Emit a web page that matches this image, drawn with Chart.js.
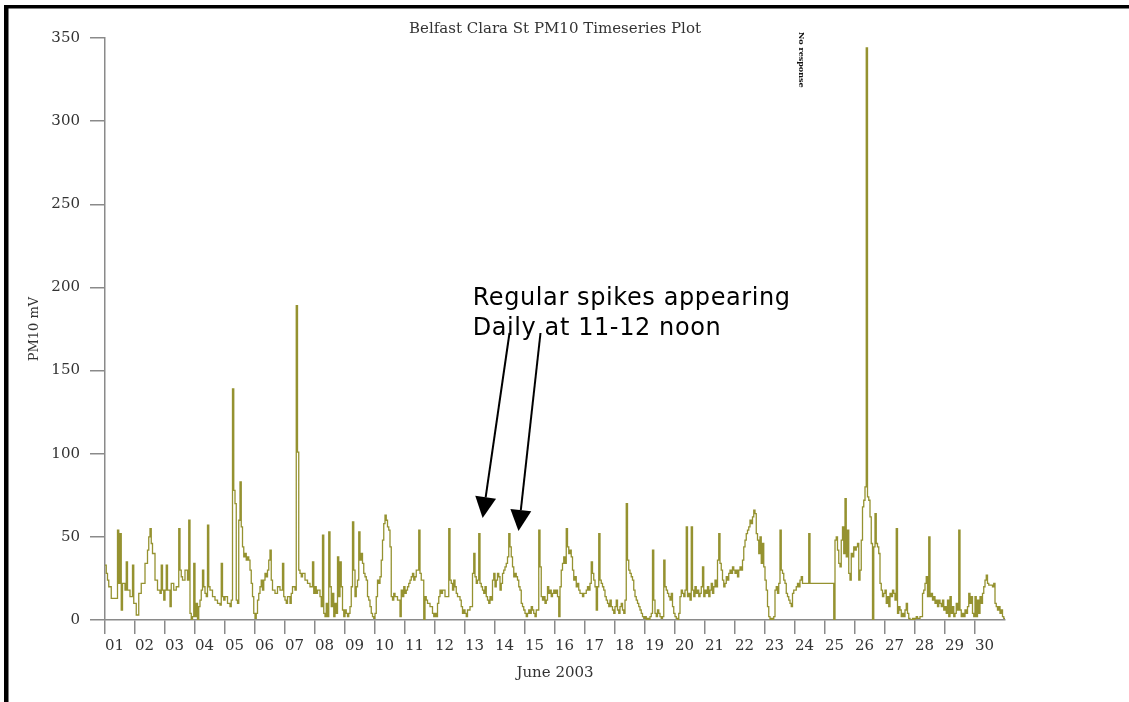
<!DOCTYPE html>
<html>
<head>
<meta charset="utf-8">
<script src="https://cdn.jsdelivr.net/npm/chart.js@4.4.0/dist/chart.umd.min.js"></script>
<style>
  html, body { margin: 0; padding: 0; background: #fff; overflow: hidden; }
  #wrap { width: 1129px; height: 702px; position: relative; }
</style>
</head>
<body>
<div id="wrap"><canvas id="chart" width="1129" height="702"></canvas></div>
<script>
// Belfast Clara St PM10 monitor, June 2003 — readings as [hour since 1 June 00:00, PM10 mV]
// Each reading holds until the next one.
const chartTitle = 'Belfast Clara St PM10 Timeseries Plot';
const xTitle = 'June 2003';
const yTitle = 'PM10 mV';
const dayLabels = ['01','02','03','04','05','06','07','08','09','10','11','12','13','14','15',
                   '16','17','18','19','20','21','22','23','24','25','26','27','28','29','30'];
const yTicks = [0, 50, 100, 150, 200, 250, 300, 350];

const week1 = [
  [0,33],[1,28],[2,24],[3,20],[5,13],[10,54],[11,22],[12,52],[13,6],[14,22],[16,18],[17,35],[18,18],[20,14],[22,33],[23,10],
  [24,10],[25,3],[27,16],[29,22],[32,34],[34,42],[35,50],[36,55],[37,46],[38,40],[40,24],[42,18],[44,16],[45,33],[46,18],[47,12],
  [48,18],[49,33],[50,18],[52,8],[53,22],[55,18],[57,20],[59,55],[60,30],[61,26],[62,24],[64,30],[66,24],[67,60],[68,4],[69,0],[70,2],[71,34],
  [72,2],[73,10],[74,0],[75,8],[76,12],[77,18],[78,30],[79,20],[80,16],[81,14],[82,57],[83,20],[84,18],[86,14],[88,12],[90,10],[92,9],[93,34],[94,14],[95,12],
  [96,14],[98,10],[100,8],[101,12],[102,139],[103,78],[104,70],[105,12],[106,10],[107,60],[108,83],[109,56],[110,44],[111,38],[112,40],[113,36],[114,38],[115,36],[116,30],[117,22],[118,14],[119,4],
  [120,1],[121,4],[122,12],[123,16],[124,20],[125,24],[126,18],[127,24],[128,28],[129,26],[130,30],[131,36],[132,42],[133,24],[134,18],[136,16],[138,20],[140,18],[142,34],[143,14],
  [144,12],[145,10],[146,14],[148,10],[149,16],[150,20],[152,18],[153,189],[154,101],[155,30],[156,28],[157,26],[158,28],[160,24],[162,22],[164,20],[166,35],[167,16]
];
const week2 = [
  [168,20],[169,16],[170,18],[172,14],[173,8],[174,51],[175,4],[176,2],[177,10],[178,2],[179,53],[180,20],[181,8],[182,16],[183,2],[184,10],[185,4],[186,38],[187,14],[188,35],[189,20],[190,6],[191,2],
  [192,6],[193,4],[194,2],[195,4],[196,8],[197,20],[198,59],[199,30],[200,14],[201,20],[202,24],[203,53],[204,36],[205,40],[206,34],[207,28],[208,26],[209,24],[210,14],[211,12],[212,8],[213,4],[214,2],[215,1],
  [216,4],[217,14],[218,24],[219,22],[220,26],[221,36],[222,48],[223,58],[224,63],[225,60],[226,56],[227,54],[228,44],[229,14],[230,12],[231,16],[232,14],[234,12],[236,2],[237,18],[238,14],[239,20],
  [240,16],[241,18],[242,20],[243,22],[244,24],[245,26],[246,28],[247,24],[248,26],[249,30],[251,54],[252,28],[253,24],[255,0],[256,14],[257,12],[258,10],[260,8],[262,4],[263,2],
  [264,4],[265,2],[266,10],[267,14],[268,18],[269,16],[270,18],[272,14],[275,55],[276,24],[277,22],[278,18],[279,24],[280,20],[281,16],[282,14],[284,12],[285,8],[286,4],[287,6],
  [288,4],[289,2],[290,6],[292,8],[294,28],[295,40],[296,26],[297,22],[298,24],[299,52],[300,22],[301,20],[302,18],[303,16],[304,20],[305,14],[306,12],[307,10],[308,14],[309,12],[310,24],[311,28],
  [312,20],[313,24],[314,28],[315,26],[316,18],[317,22],[318,28],[319,30],[320,32],[321,34],[322,38],[323,52],[324,44],[325,38],[326,32],[327,26],[328,28],[329,26],[330,24],[331,20],[332,18],[333,10],[334,8],[335,6]
];
const week3 = [
  [336,4],[337,2],[338,4],[339,6],[340,4],[341,8],[342,6],[343,4],[344,2],[345,6],[347,54],[348,32],[349,14],[350,12],[351,14],[352,10],[353,12],[354,20],[355,16],[356,18],[357,14],[358,16],[359,18],
  [360,16],[361,18],[362,14],[363,2],[364,20],[365,30],[366,34],[367,38],[368,34],[369,55],[370,44],[371,40],[372,42],[373,38],[374,30],[375,24],[376,26],[377,20],[378,22],[379,18],[380,16],[382,14],[383,16],
  [384,16],[385,18],[386,20],[387,18],[388,22],[389,35],[390,28],[391,24],[392,20],[393,6],[394,20],[395,52],[396,24],[397,22],[398,20],[399,18],[400,14],[401,12],[402,10],[403,8],[404,12],[405,8],[406,6],[407,4],
  [408,8],[409,12],[410,6],[411,4],[412,8],[413,10],[414,6],[415,4],[416,12],[417,70],[418,36],[419,30],[420,28],[421,26],[422,24],[423,18],[424,14],[425,12],[426,10],[427,8],[428,6],[429,4],[430,2],[431,1],
  [432,2],[433,0],[434,1],[435,0],[436,2],[437,4],[438,42],[439,12],[440,4],[441,2],[442,6],[443,4],[444,2],[445,1],[446,2],[447,36],[448,20],[449,18],[450,16],[451,14],[452,12],[453,16],[454,8],[455,4],
  [456,2],[457,1],[458,0],[459,4],[460,14],[461,18],[462,16],[463,14],[464,18],[465,56],[466,14],[467,16],[468,12],[469,56],[470,18],[471,14],[472,20],[473,16],[474,18],[475,14],[476,16],[477,20],[478,32],[479,14],
  [480,18],[481,16],[482,20],[483,14],[484,18],[485,22],[486,16],[487,20],[488,24],[489,20],[490,36],[491,52],[492,34],[493,30],[494,24],[495,20],[496,22],[497,26],[498,24],[499,28],[500,30],[501,28],[502,32],[503,30]
];
const week4 = [
  [504,28],[505,30],[506,26],[507,30],[508,32],[509,30],[510,36],[511,44],[512,48],[513,52],[514,54],[515,56],[516,60],[517,58],[518,62],[519,66],[520,64],[521,52],[522,48],[523,40],[524,50],[525,34],[526,46],[527,32],
  [528,24],[529,18],[530,8],[531,2],[532,0],[533,1],[534,0],[535,2],[536,18],[537,20],[538,16],[539,22],[540,54],[541,30],[542,28],[543,24],[544,22],[545,16],[546,14],[547,12],[548,10],[549,8],[550,16],[551,18],
  [552,18],[553,20],[554,22],[555,20],[556,24],[557,26],[558,22],[563,52],[564,22],
  [583,0],[584,48],[585,50],[586,42],[587,34],[588,32],[589,48],[590,56],[591,40],[592,73],[593,38],[594,54],[595,28],[596,24],[597,40],[598,38],[599,44],
  [600,42],[601,44],[602,46],[603,24],[604,30],[605,48],[606,68],[607,72],[608,80],[609,344],[610,74],[611,72],[612,62],[613,46],[614,0],[615,44],[616,64],[617,46],[618,44],[619,40],[620,22],[621,18],[622,14],[623,16],
  [624,18],[625,10],[626,14],[627,8],[628,16],[629,14],[630,18],[631,16],[632,12],[633,55],[634,4],[635,8],[636,6],[637,2],[638,4],[639,2],[640,6],[641,10],[642,4],[643,1],[644,0],[646,1],[647,0],
  [648,1],[649,2],[650,1],[652,2],[654,16],[655,18],[656,22],[657,26],[658,14],[659,50],[660,14],[661,16],[662,12],[663,14],[664,10],[665,12],[666,8],[667,12],[668,10],[669,8],[670,12],[671,6]
];
const week5 = [
  [672,8],[673,4],[674,12],[675,2],[676,14],[677,4],[678,8],[679,2],[680,4],[681,10],[682,6],[683,54],[684,6],[685,2],[686,4],[687,2],[688,6],[689,4],[690,8],[691,16],[692,10],[693,14],[694,4],[695,2],
  [696,14],[697,2],[698,12],[699,4],[700,14],[701,10],[702,16],[703,20],[704,24],[705,27],[706,22],[707,21],[710,20],[711,22],[712,10],[713,8],[714,6],[715,8],[716,4],[717,6],[718,2],[719,1],[720,1]
];

// Callout: text anchor and arrows in data units [hour, mV]
const calloutLines = ['Regular spikes appearing', 'Daily at 11-12 noon'];
const calloutAt = [294.1, 189.4];
const calloutArrows = [
  [[323.6, 172.6], [302.1, 61.3]],
  [[348.4, 172.6], [330.8, 53.5]]
];
const gapNote = 'No response';
const gapNoteHour = 556.5;

const readings = [...week1, ...week2, ...week3, ...week4, ...week5].map(([h, v]) => ({ x: h, y: v }));

const serif = '"DejaVu Serif", "Liberation Serif", serif';

function drawArrow(c, x0, y0, x1, y1) {
  const ang = Math.atan2(y1 - y0, x1 - x0);
  const len = 21, half = 10.5;
  const bx = x1 - len * Math.cos(ang), by = y1 - len * Math.sin(ang);
  c.beginPath();
  c.moveTo(x0, y0);
  c.lineTo(bx, by);
  c.lineWidth = 2;
  c.strokeStyle = '#000';
  c.stroke();
  c.beginPath();
  c.moveTo(x1, y1);
  c.lineTo(bx + half * Math.sin(ang), by - half * Math.cos(ang));
  c.lineTo(bx - half * Math.sin(ang), by + half * Math.cos(ang));
  c.closePath();
  c.fillStyle = '#000';
  c.fill();
}

const decor = {
  id: 'decor',
  beforeDraw(chart) {
    const c = chart.ctx;
    c.save();
    c.fillStyle = '#fff';
    c.fillRect(0, 0, chart.width, chart.height);
    c.restore();
  },
  afterDraw(chart) {
    const c = chart.ctx, xs = chart.scales.x, ys = chart.scales.y, area = chart.chartArea;
    c.save();
    // page frame
    c.fillStyle = '#000';
    c.fillRect(4, 5, 4.5, chart.height);
    c.fillRect(4, 5, chart.width, 3.5);
    // title
    c.fillStyle = '#333';
    c.font = '15px ' + serif;
    c.textAlign = 'center';
    c.textBaseline = 'middle';
    c.fillText(chartTitle, (area.left + area.right) / 2, 29);
    // small vertical note over the data gap
    c.save();
    c.translate(xs.getPixelForValue(gapNoteHour), area.top - 6);
    c.rotate(Math.PI / 2);
    c.font = 'bold 8px ' + serif;
    c.textAlign = 'left';
    c.textBaseline = 'middle';
    c.fillStyle = '#111';
    c.fillText(gapNote, 0, 0);
    c.restore();
    // callout
    c.fillStyle = '#000';
    c.font = '24px "DejaVu Sans", Verdana, sans-serif';
    c.letterSpacing = '0.6px';
    c.textAlign = 'left';
    c.textBaseline = 'alphabetic';
    const tx = xs.getPixelForValue(calloutAt[0]), ty = ys.getPixelForValue(calloutAt[1]);
    calloutLines.forEach((t, i) => c.fillText(t, tx, ty + i * 30));
    c.letterSpacing = '0px';
    calloutArrows.forEach(([[h0, v0], [h1, v1]]) => {
      drawArrow(c, xs.getPixelForValue(h0), ys.getPixelForValue(v0), xs.getPixelForValue(h1), ys.getPixelForValue(v1));
    });
    c.restore();
  }
};

new Chart(document.getElementById('chart').getContext('2d'), {
  type: 'line',
  data: {
    datasets: [{
      data: readings,
      stepped: 'before',
      borderColor: '#959230',
      borderWidth: 1.3,
      pointRadius: 0,
      fill: false
    }]
  },
  options: {
    responsive: false,
    animation: false,
    devicePixelRatio: 1,
    layout: { padding: { left: 0, right: 124, top: 38, bottom: 0 } },
    plugins: { legend: { display: false }, tooltip: { enabled: false }, title: { display: false } },
    scales: {
      x: {
        type: 'linear',
        min: 0,
        max: 720,
        afterBuildTicks: (s) => { s.ticks = dayLabels.map((_, i) => ({ value: i * 24 })); },
        afterFit: (s) => { s.height = 82; },
        ticks: {
          callback: (v) => dayLabels[Math.round(v / 24)],
          align: 'start',
          autoSkip: false,
          maxRotation: 0,
          padding: 3,
          color: '#333',
          font: { family: serif, size: 15 }
        },
        grid: { drawOnChartArea: false, drawTicks: true, tickLength: 14, color: '#8a8a8a', lineWidth: 1.5 },
        border: { display: true, color: '#8a8a8a', width: 1.5 },
        title: { display: true, text: xTitle, color: '#333', font: { family: serif, size: 15 }, padding: { top: 0, bottom: 20 } }
      },
      y: {
        min: 0,
        max: 350,
        afterBuildTicks: (s) => { s.ticks = yTicks.map(v => ({ value: v })); },
        afterFit: (s) => { s.width = 105; },
        ticks: { padding: 10, color: '#333', font: { family: serif, size: 15 } },
        grid: { drawOnChartArea: false, drawTicks: true, tickLength: 15, color: '#8a8a8a', lineWidth: 1.5 },
        border: { display: true, color: '#8a8a8a', width: 1.5 },
        title: { display: true, text: yTitle, color: '#333', font: { family: serif, size: 13 }, padding: { top: 27, bottom: 0 } }
      }
    }
  },
  plugins: [decor]
});
</script>
</body>
</html>
